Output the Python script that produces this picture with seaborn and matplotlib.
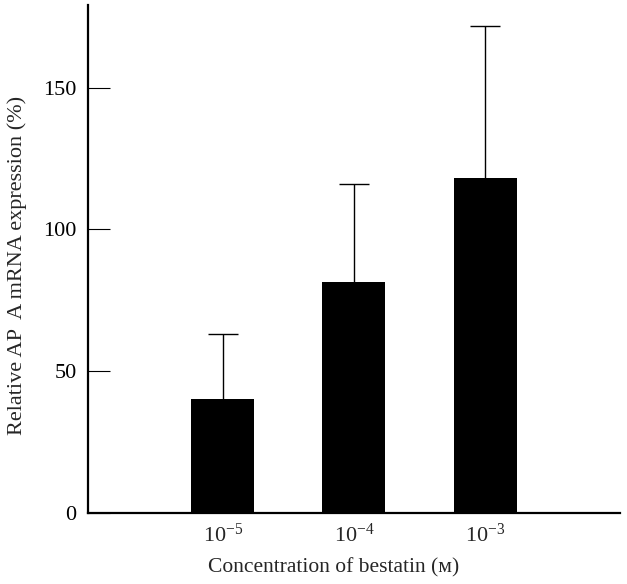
import numpy as np
import pandas as pd
import matplotlib
matplotlib.use('Agg')
import matplotlib.pyplot as plt
import seaborn as sns

# Values
concentrations = ['10$^{-5}$', '10$^{-4}$', '10$^{-3}$']
expression = [40.2, 81.5, 118.2]
error_up = [22.8, 34.6, 53.4]

df = pd.DataFrame({'conc': concentrations, 'expr': expression})

sns.set_style('white')
plt.rcParams['font.family'] = ['Liberation Serif', 'DejaVu Serif']
plt.rcParams['mathtext.fontset'] = 'custom'
plt.rcParams['mathtext.rm'] = 'Liberation Serif'
plt.rcParams['mathtext.it'] = 'Liberation Serif'

fig = plt.figure(figsize=(6.27, 5.84), dpi=100)
ax = fig.add_axes([0.140, 0.1216, 0.849, 0.8694])

sns.barplot(data=df, x='conc', y='expr', color='black', width=0.48,
            errorbar=None, saturation=1, linewidth=0, ax=ax)

# upward-only error bars with caps
xpos = np.arange(len(expression))
tops = np.array(expression) + np.array(error_up)
ax.vlines(xpos, expression, tops, color='black', linewidth=1.0)
ax.hlines(tops, xpos - 0.115, xpos + 0.115, color='black', linewidth=1.0)

ax.set_xlim(-1.03, 3.03)
ax.set_ylim(0, 179)
ax.set_yticks([0, 50, 100, 150])
ax.tick_params(axis='y', left=True, direction='in', length=16, width=0.8,
               pad=8, labelsize=16, colors='black')
ax.tick_params(axis='x', bottom=False, length=0, pad=8, labelsize=16)

for s in ['top', 'right']:
    ax.spines[s].set_visible(False)
for s in ['left', 'bottom']:
    ax.spines[s].set_linewidth(1.6)
    ax.spines[s].set_color('black')

ax.set_xlabel('Concentration of bestatin (ᴍ)', fontsize=15.5)
ax.set_ylabel('Relative AP  A mRNA expression (%)', fontsize=16)
ax.xaxis.set_label_coords(0.462, -0.088)
ax.yaxis.set_label_coords(-0.114, 0.488)

fig.savefig('out.png', dpi=100)
